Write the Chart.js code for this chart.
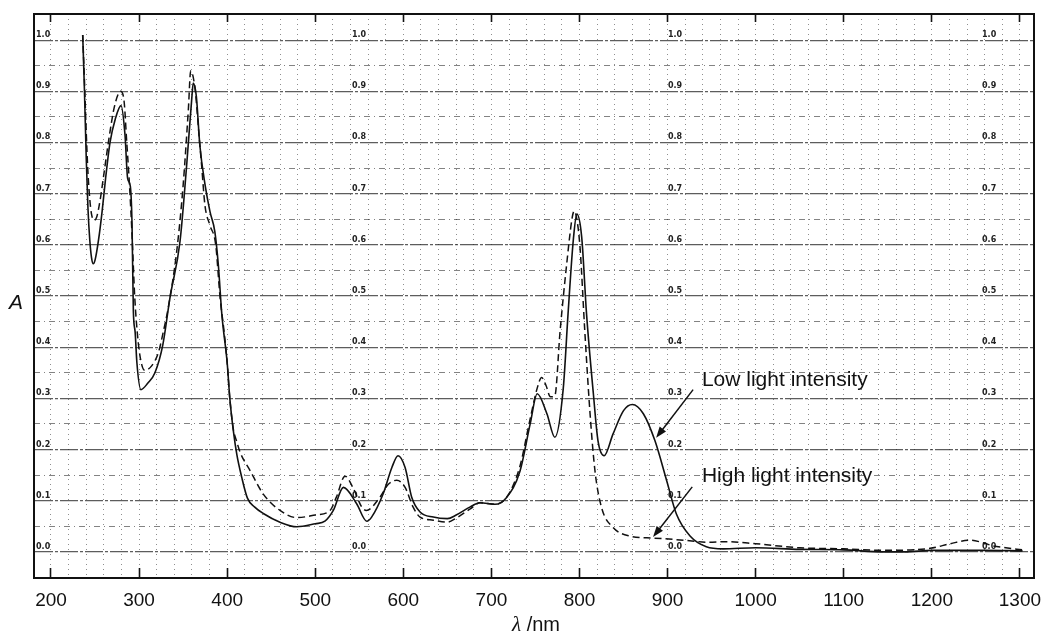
<!DOCTYPE html>
<html>
<head>
<meta charset="utf-8">
<script src="https://cdn.jsdelivr.net/npm/chart.js@4.4.0/dist/chart.umd.min.js"></script>
<style>
  body { margin: 0; background: #fff; }
  #wrap { width: 1042px; height: 633px; position: relative; }
</style>
</head>
<body>
<div id="wrap"><canvas id="spectrum"></canvas></div>
<script>
// Absorption spectra (wavelength in nm, absorbance A)

// solid trace - low light intensity
const lowNm = [
  236, 238, 240, 242, 244, 246, 248, 250, 254, 258,
  262, 267, 273, 279.5, 284, 287, 290, 292, 293.5, 295.5,
  297.5, 302, 310, 318, 327, 335, 346.5, 354, 360, 361.5,
  365, 369, 375, 380.5, 386, 390, 394, 400, 403, 407,
  411, 416.5, 423, 431, 441, 460, 479, 500, 511, 520.5,
  532, 547, 558.5, 564, 577, 587, 594, 602, 609.5, 619,
  634, 650, 660, 676, 687, 704, 717, 732.5, 744, 752,
  763, 772, 781.6, 787, 793, 797, 802.5, 808, 815.7, 821,
  828, 838, 850, 860, 872.5, 885.7, 899, 910, 925.5, 944,
  963, 1000, 1050, 1100, 1145, 1170, 1200, 1260, 1303
];
const lowA = [
  1.01, 0.90, 0.77, 0.67, 0.61, 0.575, 0.563, 0.57, 0.61, 0.665,
  0.73, 0.80, 0.846, 0.872, 0.815, 0.73, 0.715, 0.64, 0.47, 0.43,
  0.37, 0.317, 0.33, 0.35, 0.405, 0.496, 0.607, 0.755, 0.89, 0.916,
  0.89, 0.794, 0.716, 0.665, 0.626, 0.56, 0.463, 0.37, 0.30, 0.237,
  0.19, 0.146, 0.105, 0.088, 0.075, 0.058, 0.049, 0.055, 0.06, 0.081,
  0.126, 0.094, 0.060, 0.068, 0.113, 0.165, 0.188, 0.165, 0.107, 0.078,
  0.068, 0.065, 0.072, 0.088, 0.096, 0.093, 0.106, 0.158, 0.25, 0.309,
  0.27, 0.224, 0.32, 0.465, 0.61, 0.66, 0.615, 0.465, 0.31, 0.217,
  0.188, 0.23, 0.276, 0.288, 0.27, 0.217, 0.139, 0.074, 0.031, 0.01,
  0.006, 0.008, 0.005, 0.004, 0.0, 0.0, 0.003, 0.003, 0.002
];

// dashed trace - high light intensity
const highNm = [
  236, 238, 240, 242, 244, 246, 249, 252, 256, 261,
  266, 272, 279, 283, 286, 289, 292, 295, 299, 303,
  306.5, 314, 322, 327.5, 333, 342.7, 350, 356, 358.6, 363.5,
  368.4, 371, 374.8, 380.5, 387, 392, 396.4, 400, 403, 407,
  411, 414.6, 426, 441, 460, 479, 500, 516.8, 524, 533.8,
  543, 552.7, 558, 573.5, 583, 592.5, 602, 611, 619, 634,
  650, 660, 676, 687, 704, 717, 732, 744, 752, 757,
  762, 767, 772, 778, 785.5, 791.8, 794, 797, 800.6, 806,
  812, 817.6, 825, 838, 857, 884, 925, 944, 968, 1000,
  1050, 1100, 1145, 1198, 1221, 1243, 1258, 1269, 1284, 1303
];
const highA = [
  1.01, 0.92, 0.82, 0.74, 0.69, 0.66, 0.648, 0.655, 0.69, 0.75,
  0.81, 0.87, 0.90, 0.88, 0.80, 0.72, 0.62, 0.50, 0.41, 0.366,
  0.355, 0.363, 0.39, 0.43, 0.476, 0.587, 0.716, 0.866, 0.94, 0.905,
  0.807, 0.755, 0.677, 0.638, 0.60, 0.496, 0.432, 0.37, 0.30, 0.24,
  0.215, 0.195, 0.159, 0.113, 0.081, 0.067, 0.072, 0.081, 0.107, 0.148,
  0.125, 0.088, 0.081, 0.107, 0.132, 0.14, 0.126, 0.088, 0.068, 0.062,
  0.058, 0.066, 0.084, 0.096, 0.093, 0.106, 0.165, 0.26, 0.32, 0.341,
  0.325, 0.303, 0.305, 0.432, 0.563, 0.654, 0.666, 0.65, 0.595, 0.432,
  0.27, 0.158, 0.087, 0.048, 0.031, 0.027, 0.022, 0.019, 0.02, 0.016,
  0.008, 0.006, 0.003, 0.007, 0.016, 0.023, 0.018, 0.012, 0.008, 0.004
];

// axis ticks
const xTickValues = [200, 300, 400, 500, 600, 700, 800, 900, 1000, 1100, 1200, 1300];
const aTickValues = [0, 0.1, 0.2, 0.3, 0.4, 0.5, 0.6, 0.7, 0.8, 0.9, 1.0];
const aTickLabels = ['0.0', '0.1', '0.2', '0.3', '0.4', '0.5', '0.6', '0.7', '0.8', '0.9', '1.0'];
// wavelengths where the recorder paper prints its absorbance scale
const paperColumnsNm = [183, 541.7, 900.5, 1257];

const X_MIN = 180.7, X_MAX = 1316;
const Y_MIN = -0.051, Y_MAX = 1.051;

// labels with arrows, in data units
const curveNotes = [
  { text: 'Low light intensity', at: [939, 0.325], from: [929, 0.317], to: [887, 0.223] },
  { text: 'High light intensity', at: [939, 0.137], from: [928, 0.127], to: [883.5, 0.029] }
];

const INK = '#111';
const frame = { color: INK, width: 2 };

// fix an axis box size and drop the label overhang padding
function fixBox(w, h) {
  return s => {
    if (w !== null) s.width = w;
    if (h !== null) s.height = h;
    s.paddingLeft = s.paddingRight = s.paddingTop = s.paddingBottom = 0;
  };
}
const useTicks = list => s => { s.ticks = list.map(v => ({ value: v })); };
const isMinorLine = v => v > 0.01 && v < 1.01 && Math.abs(v * 10 - Math.round(v * 10)) > 0.2;

const paperPlugin = {
  id: 'paper',
  beforeDatasetsDraw(chart) {
    const { ctx, scales: { x, y } } = chart;
    ctx.save();
    ctx.fillStyle = '#222';
    ctx.font = 'bold 8px "DejaVu Sans"';
    ctx.textAlign = 'left';
    ctx.textBaseline = 'alphabetic';
    paperColumnsNm.forEach(nm => {
      aTickValues.forEach((v, i) => {
        ctx.fillText(aTickLabels[i], x.getPixelForValue(nm), y.getPixelForValue(v) - 3);
      });
    });
    ctx.restore();
  },
  afterDraw(chart) {
    const { ctx, scales: { x, y }, chartArea } = chart;
    ctx.save();
    ctx.fillStyle = INK;
    ctx.strokeStyle = INK;

    // curve labels and arrows
    ctx.font = '21px "Liberation Sans", Arial, sans-serif';
    ctx.textAlign = 'left';
    ctx.textBaseline = 'alphabetic';
    curveNotes.forEach(n => {
      ctx.fillText(n.text, x.getPixelForValue(n.at[0]), y.getPixelForValue(n.at[1]));
      const x1 = x.getPixelForValue(n.from[0]), y1 = y.getPixelForValue(n.from[1]);
      const x2 = x.getPixelForValue(n.to[0]), y2 = y.getPixelForValue(n.to[1]);
      const ang = Math.atan2(y2 - y1, x2 - x1);
      ctx.lineWidth = 1.5;
      ctx.beginPath();
      ctx.moveTo(x1, y1);
      ctx.lineTo(x2 - 8 * Math.cos(ang), y2 - 8 * Math.sin(ang));
      ctx.stroke();
      ctx.beginPath();
      ctx.moveTo(x2, y2);
      ctx.lineTo(x2 - 11 * Math.cos(ang) + 4 * Math.sin(ang), y2 - 11 * Math.sin(ang) - 4 * Math.cos(ang));
      ctx.lineTo(x2 - 11 * Math.cos(ang) - 4 * Math.sin(ang), y2 - 11 * Math.sin(ang) + 4 * Math.cos(ang));
      ctx.closePath();
      ctx.fill();
    });

    // y title: italic A, upright
    ctx.font = 'italic 21px "Liberation Sans", Arial, sans-serif';
    ctx.fillText('A', 9, y.getPixelForValue(0.475));

    // x title: lambda /nm
    const lam = 'λ', unit = ' /nm';
    ctx.font = 'italic 21px "Liberation Serif", serif';
    const wl = ctx.measureText(lam).width;
    ctx.font = '20px "Liberation Sans", Arial, sans-serif';
    const wu = ctx.measureText(unit).width;
    const cx = (chartArea.left + chartArea.right) / 2 + 2;
    const start = cx - (wl + wu) / 2;
    ctx.fillText(unit, start + wl, 631);
    ctx.font = 'italic 21px "Liberation Serif", serif';
    ctx.fillText(lam, start, 631);
    ctx.restore();
  }
};

new Chart(document.getElementById('spectrum'), {
  type: 'line',
  data: {
    datasets: [
      {
        label: 'Low light intensity',
        data: lowNm.map((v, i) => ({ x: v, y: lowA[i] })),
        borderColor: INK,
        borderWidth: 1.6,
        pointRadius: 0,
        cubicInterpolationMode: 'monotone',
        fill: false
      },
      {
        label: 'High light intensity',
        data: highNm.map((v, i) => ({ x: v, y: highA[i] })),
        borderColor: INK,
        borderWidth: 1.5,
        borderDash: [7, 4],
        pointRadius: 0,
        cubicInterpolationMode: 'monotone',
        fill: false
      }
    ]
  },
  options: {
    responsive: true,
    maintainAspectRatio: false,
    animation: false,
    layout: { padding: { right: 8 } },
    plugins: { legend: { display: false }, tooltip: { enabled: false } },
    scales: {
      x: {
        type: 'linear', position: 'bottom', min: X_MIN, max: X_MAX,
        afterBuildTicks: useTicks(xTickValues),
        ticks: {
          color: INK, padding: 21, maxRotation: 0, autoSkip: false,
          font: { family: '"Liberation Sans", Arial, sans-serif', size: 19 },
          callback: v => String(v)
        },
        grid: { drawOnChartArea: false, tickLength: -10, tickWidth: 1.6, tickColor: INK },
        border: frame,
        afterFit: fixBox(null, 55)
      },
      xTop: {
        type: 'linear', position: 'top', min: X_MIN, max: X_MAX,
        afterBuildTicks: useTicks(xTickValues),
        ticks: { display: false },
        grid: { drawOnChartArea: false, tickLength: -8, tickWidth: 1.6, tickColor: INK },
        border: frame,
        afterFit: fixBox(null, 14)
      },
      xGrid: {
        type: 'linear', position: 'top', min: X_MIN, max: X_MAX,
        ticks: { display: false, stepSize: 20, includeBounds: false },
        grid: { drawTicks: false, lineWidth: 1, color: 'rgba(30,30,30,0.5)' },
        border: { display: false, dash: [1, 4] },
        afterFit: fixBox(null, 0)
      },
      y: {
        type: 'linear', position: 'left', min: Y_MIN, max: Y_MAX,
        afterBuildTicks: useTicks(aTickValues),
        ticks: { display: false },
        grid: { drawTicks: false, lineWidth: 1.2, color: 'rgba(30,30,30,0.72)' },
        border: { color: INK, width: 2, dash: [18, 2, 3, 2] },
        afterFit: fixBox(34, null)
      },
      yMinor: {
        type: 'linear', position: 'left', min: Y_MIN, max: Y_MAX,
        ticks: { display: false, stepSize: 0.05, includeBounds: false },
        grid: {
          drawTicks: false, lineWidth: 1,
          color: c => (c.tick && isMinorLine(c.tick.value)) ? 'rgba(30,30,30,0.55)' : 'rgba(0,0,0,0)'
        },
        border: { display: false, dash: [6, 4, 1, 4] },
        afterFit: fixBox(0, null)
      },
      yRight: {
        type: 'linear', position: 'right', min: Y_MIN, max: Y_MAX,
        ticks: { display: false },
        grid: { display: false },
        border: frame,
        afterFit: fixBox(0, null)
      }
    }
  },
  plugins: [paperPlugin]
});
</script>
</body>
</html>
